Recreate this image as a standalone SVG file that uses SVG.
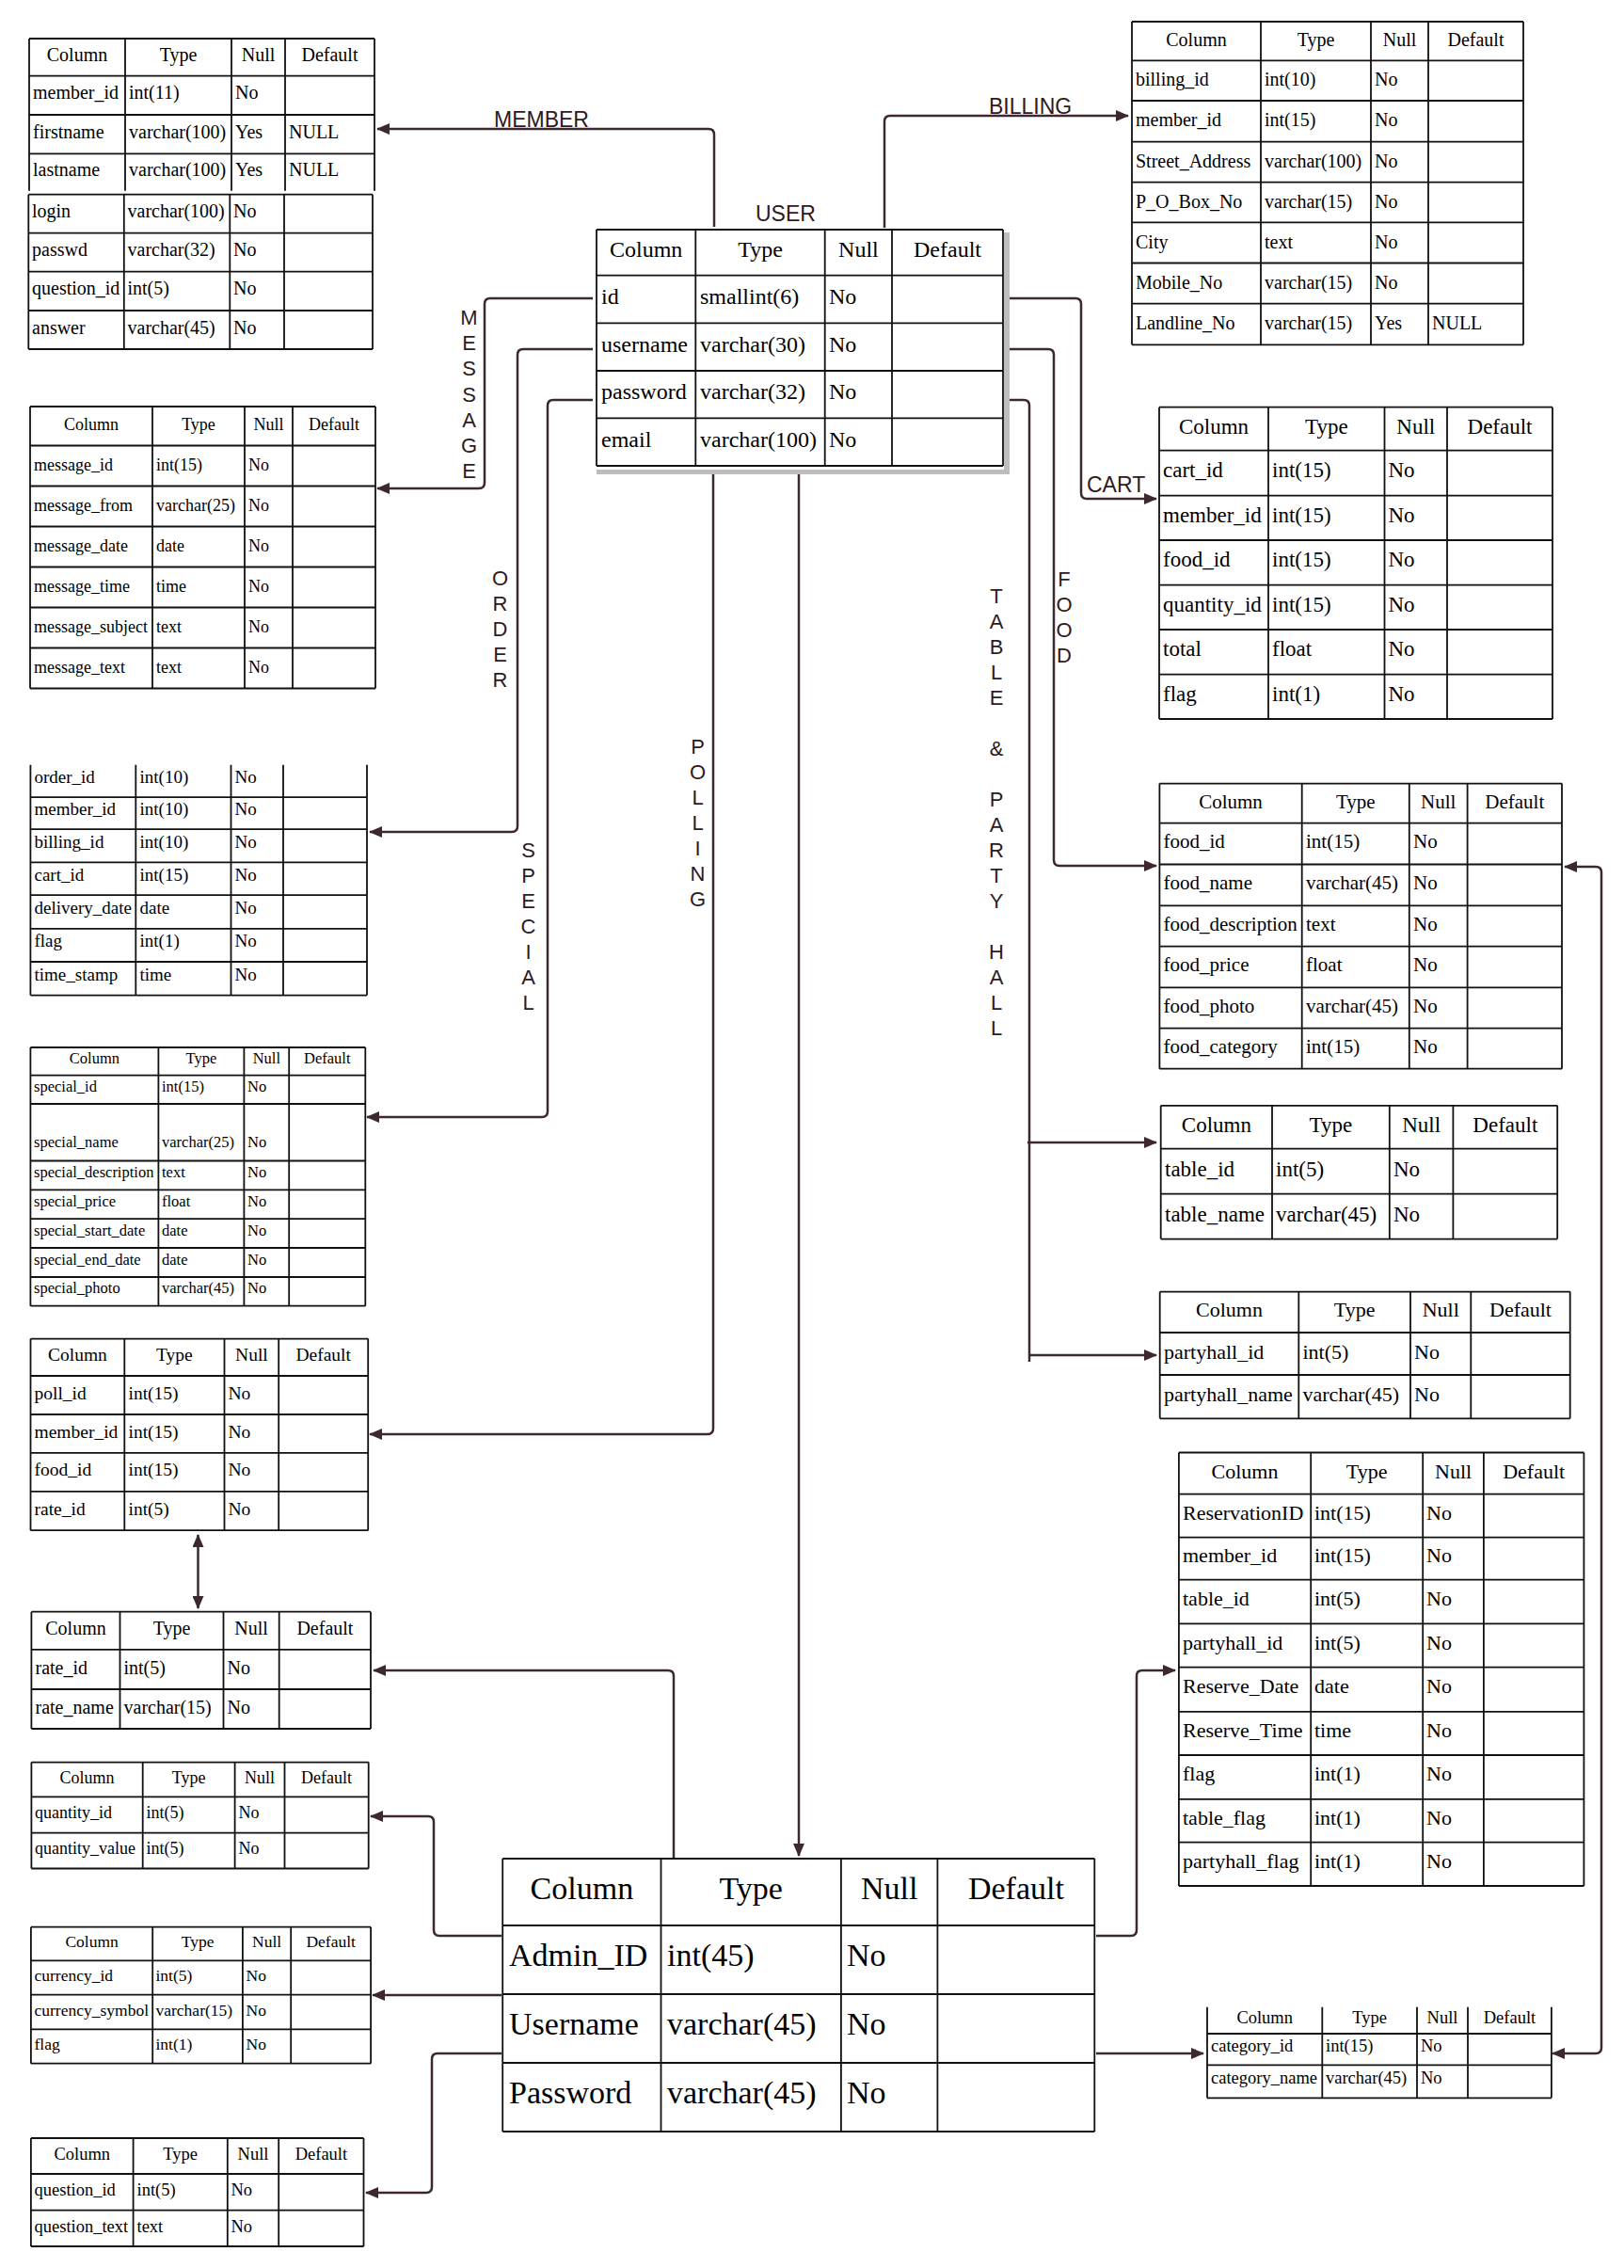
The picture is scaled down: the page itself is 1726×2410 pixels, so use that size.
<svg xmlns="http://www.w3.org/2000/svg" width="1726" height="2410" viewBox="0 0 1726 2410">
<style>
.bg{fill:#fff}
.g{fill:none;stroke:#111;stroke-width:1.8}
.t{font-family:"Liberation Serif","Times New Roman",serif;fill:#000}
.c{text-anchor:middle}
.conn{fill:none;stroke:#3d2830;stroke-width:2.5}
.lbl{font-family:"Liberation Sans",Arial,sans-serif;fill:#2e1a20;font-size:23px}
.vl{font-family:"Liberation Sans",Arial,sans-serif;fill:#2e1a20;font-size:22px;text-anchor:middle}
</style>
<defs>
<marker id="ah" markerUnits="userSpaceOnUse" markerWidth="14" markerHeight="12" refX="13" refY="6" orient="auto-start-reverse" viewBox="0 0 14 12"><path d="M0,0 L14,6 L0,12 Z" fill="#3d2830"/></marker>
</defs>
<rect class="bg" x="0" y="0" width="1726" height="2410"/>

<g id="connectors">
<path class="conn" d="M759 241 L759 143 Q759 137 753 137 L401 137" marker-end="url(#ah)"/>
<path class="conn" d="M940 242 L940 129 Q940 123 946 123 L1199 123" marker-end="url(#ah)"/>
<path class="conn" d="M630 317 L521 317 Q515 317 515 323 L515 513 Q515 519 509 519 L401 519" marker-end="url(#ah)"/>
<path class="conn" d="M630 371 L556 371 Q550 371 550 377 L550 878 Q550 884 544 884 L393 884" marker-end="url(#ah)"/>
<path class="conn" d="M630 425 L588 425 Q582 425 582 431 L582 1181 Q582 1187 576 1187 L390 1187" marker-end="url(#ah)"/>
<path class="conn" d="M1072 317 L1143 317 Q1149 317 1149 323 L1149 524 Q1149 530 1155 530 L1229 530" marker-end="url(#ah)"/>
<path class="conn" d="M1072 371 L1114 371 Q1120 371 1120 377 L1120 914 Q1120 920 1126 920 L1229 920" marker-end="url(#ah)"/>
<path class="conn" d="M1072 425 L1088 425 Q1094 425 1094 431 L1094 1447"/>
<path class="conn" d="M1092 1214 L1229 1214" marker-end="url(#ah)"/>
<path class="conn" d="M1094 1440 L1229 1440" marker-end="url(#ah)"/>
<path class="conn" d="M758 503 L758 1518 Q758 1524 752 1524 L393 1524" marker-end="url(#ah)"/>
<path class="conn" d="M849 503 L849 1972" marker-end="url(#ah)"/>
<path class="conn" d="M210.5 1631 L210.5 1709" marker-start="url(#ah)" marker-end="url(#ah)"/>
<path class="conn" d="M716 1974 L716 1781 Q716 1775 710 1775 L397 1775" marker-end="url(#ah)"/>
<path class="conn" d="M533 2057 L467 2057 Q461 2057 461 2051 L461 1936 Q461 1930 455 1930 L394 1930" marker-end="url(#ah)"/>
<path class="conn" d="M533 2120 L396 2120" marker-end="url(#ah)"/>
<path class="conn" d="M533 2182 L465 2182 Q459 2182 459 2188 L459 2324 Q459 2330 453 2330 L389 2330" marker-end="url(#ah)"/>
<path class="conn" d="M1165 2057 L1202 2057 Q1208 2057 1208 2051 L1208 1781 Q1208 1775 1214 1775 L1249 1775" marker-end="url(#ah)"/>
<path class="conn" d="M1165 2182 L1279 2182" marker-end="url(#ah)"/>
<path class="conn" d="M1663 921 L1696 921 Q1702 921 1702 927 L1702 2176 Q1702 2182 1696 2182 L1650 2182" marker-start="url(#ah)" marker-end="url(#ah)"/>
<text class="lbl" x="525" y="135">MEMBER</text>
<text class="lbl" x="1051" y="121">BILLING</text>
<text class="lbl" x="803" y="235">USER</text>
<text class="lbl" x="1155" y="523">CART</text>
<text class="vl" x="498.5" y="345"><tspan x="498.5">M</tspan><tspan x="498.5" dy="27.2">E</tspan><tspan x="498.5" dy="27.2">S</tspan><tspan x="498.5" dy="27.2">S</tspan><tspan x="498.5" dy="27.2">A</tspan><tspan x="498.5" dy="27.2">G</tspan><tspan x="498.5" dy="27.2">E</tspan></text>
<text class="vl" x="531.5" y="622"><tspan x="531.5">O</tspan><tspan x="531.5" dy="27">R</tspan><tspan x="531.5" dy="27">D</tspan><tspan x="531.5" dy="27">E</tspan><tspan x="531.5" dy="27">R</tspan></text>
<text class="vl" x="561.5" y="911"><tspan x="561.5">S</tspan><tspan x="561.5" dy="27">P</tspan><tspan x="561.5" dy="27">E</tspan><tspan x="561.5" dy="27">C</tspan><tspan x="561.5" dy="27">I</tspan><tspan x="561.5" dy="27">A</tspan><tspan x="561.5" dy="27">L</tspan></text>
<text class="vl" x="741.5" y="801"><tspan x="741.5">P</tspan><tspan x="741.5" dy="27">O</tspan><tspan x="741.5" dy="27">L</tspan><tspan x="741.5" dy="27">L</tspan><tspan x="741.5" dy="27">I</tspan><tspan x="741.5" dy="27">N</tspan><tspan x="741.5" dy="27">G</tspan></text>
<text class="vl" x="1059" y="641"><tspan x="1059">T</tspan><tspan x="1059" dy="27">A</tspan><tspan x="1059" dy="27">B</tspan><tspan x="1059" dy="27">L</tspan><tspan x="1059" dy="27">E</tspan><tspan x="1059" dy="54">&amp;</tspan><tspan x="1059" dy="54">P</tspan><tspan x="1059" dy="27">A</tspan><tspan x="1059" dy="27">R</tspan><tspan x="1059" dy="27">T</tspan><tspan x="1059" dy="27">Y</tspan><tspan x="1059" dy="54">H</tspan><tspan x="1059" dy="27">A</tspan><tspan x="1059" dy="27">L</tspan><tspan x="1059" dy="27">L</tspan></text>
<text class="vl" x="1131" y="622.5"><tspan x="1131">F</tspan><tspan x="1131" dy="27">O</tspan><tspan x="1131" dy="27">O</tspan><tspan x="1131" dy="27">D</tspan></text>
</g>

<g id="member">
<path class="g" d="M31 41H398 M31 80.7H398 M31 122H398 M31 163.3H398 M31 41V202.7 M133 41V202.7 M246 41V202.7 M303 41V202.7 M398 41V202.7"/>
<path class="g" d="M30.3 206.7H396 M30.3 247.7H396 M30.3 288.7H396 M30.3 330H396 M30.3 371H396 M30.3 206.7V371 M131.8 206.7V371 M244.3 206.7V371 M302 206.7V371 M396 206.7V371"/>
<g class="t" font-size="20">
<text class="c" x="82" y="65">Column</text><text class="c" x="189.5" y="65">Type</text><text class="c" x="274.5" y="65">Null</text><text class="c" x="350.5" y="65">Default</text>
<text x="35" y="105.4">member_id</text><text x="137" y="105.4">int(11)</text><text x="250" y="105.4">No</text>
<text x="35" y="146.7">firstname</text><text x="137" y="146.7">varchar(100)</text><text x="250" y="146.7">Yes</text><text x="307" y="146.7">NULL</text>
<text x="35" y="187">lastname</text><text x="137" y="187">varchar(100)</text><text x="250" y="187">Yes</text><text x="307" y="187">NULL</text>
<text x="34" y="231.2">login</text><text x="135.5" y="231.2">varchar(100)</text><text x="248" y="231.2">No</text>
<text x="34" y="272.2">passwd</text><text x="135.5" y="272.2">varchar(32)</text><text x="248" y="272.2">No</text>
<text x="34" y="313.4">question_id</text><text x="135.5" y="313.4">int(5)</text><text x="248" y="313.4">No</text>
<text x="34" y="354.5">answer</text><text x="135.5" y="354.5">varchar(45)</text><text x="248" y="354.5">No</text>
</g>
</g>

<g id="message">
<path class="g" d="M32 432H399 M32 473.5H399 M32 516.5H399 M32 559.5H399 M32 602.5H399 M32 645.5H399 M32 688.5H399 M32 731.5H399 M32 432V731.5 M162 432V731.5 M260 432V731.5 M311 432V731.5 M399 432V731.5"/>
<g class="t" font-size="18">
<text class="c" x="97" y="457.3">Column</text><text class="c" x="211" y="457.3">Type</text><text class="c" x="285.5" y="457.3">Null</text><text class="c" x="355" y="457.3">Default</text>
<text x="36" y="499.5">message_id</text><text x="166" y="499.5">int(15)</text><text x="264" y="499.5">No</text>
<text x="36" y="542.5">message_from</text><text x="166" y="542.5">varchar(25)</text><text x="264" y="542.5">No</text>
<text x="36" y="585.5">message_date</text><text x="166" y="585.5">date</text><text x="264" y="585.5">No</text>
<text x="36" y="628.5">message_time</text><text x="166" y="628.5">time</text><text x="264" y="628.5">No</text>
<text x="36" y="671.5">message_subject</text><text x="166" y="671.5">text</text><text x="264" y="671.5">No</text>
<text x="36" y="714.5">message_text</text><text x="166" y="714.5">text</text><text x="264" y="714.5">No</text>
</g>
</g>

<g id="user">
<rect x="1067" y="247" width="6" height="257" fill="#bdbdbd"/>
<rect x="634" y="499" width="439" height="5" fill="#bdbdbd"/>
<rect x="634" y="244" width="432" height="251" fill="#fff"/>
<path class="g" stroke-width="2.2" d="M634 244H1066 M634 292.7H1066 M634 343.3H1066 M634 394H1066 M634 444.3H1066 M634 495H1066 M634 244V495 M739.3 244V495 M876.7 244V495 M948 244V495 M1066 244V495"/>
<g class="t" font-size="24">
<text class="c" x="686.7" y="273.4">Column</text><text class="c" x="808" y="273.4">Type</text><text class="c" x="912.4" y="273.4">Null</text><text class="c" x="1007" y="273.4">Default</text>
<text x="639" y="323">id</text><text x="744" y="323">smallint(6)</text><text x="881" y="323">No</text>
<text x="639" y="373.7">username</text><text x="744" y="373.7">varchar(30)</text><text x="881" y="373.7">No</text>
<text x="639" y="424.2">password</text><text x="744" y="424.2">varchar(32)</text><text x="881" y="424.2">No</text>
<text x="639" y="474.7">email</text><text x="744" y="474.7">varchar(100)</text><text x="881" y="474.7">No</text>
</g>
</g>

<g id="billing">
<path class="g" d="M1203 23H1619 M1203 64.3H1619 M1203 107H1619 M1203 150.6H1619 M1203 193.7H1619 M1203 236.4H1619 M1203 279.5H1619 M1203 322.6H1619 M1203 366.3H1619 M1203 23V366.3 M1340 23V366.3 M1457 23V366.3 M1518 23V366.3 M1619 23V366.3"/>
<g class="t" font-size="20">
<text class="c" x="1271.5" y="49.2">Column</text><text class="c" x="1398.5" y="49.2">Type</text><text class="c" x="1487.5" y="49.2">Null</text><text class="c" x="1568.5" y="49.2">Default</text>
<text x="1207" y="91.2">billing_id</text><text x="1344" y="91.2">int(10)</text><text x="1461" y="91.2">No</text>
<text x="1207" y="134.3">member_id</text><text x="1344" y="134.3">int(15)</text><text x="1461" y="134.3">No</text>
<text x="1207" y="177.7">Street_Address</text><text x="1344" y="177.7">varchar(100)</text><text x="1461" y="177.7">No</text>
<text x="1207" y="220.6">P_O_Box_No</text><text x="1344" y="220.6">varchar(15)</text><text x="1461" y="220.6">No</text>
<text x="1207" y="263.5">City</text><text x="1344" y="263.5">text</text><text x="1461" y="263.5">No</text>
<text x="1207" y="306.6">Mobile_No</text><text x="1344" y="306.6">varchar(15)</text><text x="1461" y="306.6">No</text>
<text x="1207" y="350">Landline_No</text><text x="1344" y="350">varchar(15)</text><text x="1461" y="350">Yes</text><text x="1522" y="350">NULL</text>
</g>
</g>

<g id="cart">
<path class="g" d="M1232 432.7H1650 M1232 478.7H1650 M1232 526.7H1650 M1232 574H1650 M1232 621.7H1650 M1232 669H1650 M1232 716.7H1650 M1232 764H1650 M1232 432.7V764 M1348 432.7V764 M1471.5 432.7V764 M1538 432.7V764 M1650 432.7V764"/>
<g class="t" font-size="23">
<text class="c" x="1290" y="460.7">Column</text><text class="c" x="1409.8" y="460.7">Type</text><text class="c" x="1504.8" y="460.7">Null</text><text class="c" x="1594" y="460.7">Default</text>
<text x="1236" y="507.2">cart_id</text><text x="1352" y="507.2">int(15)</text><text x="1475.5" y="507.2">No</text>
<text x="1236" y="554.9">member_id</text><text x="1352" y="554.9">int(15)</text><text x="1475.5" y="554.9">No</text>
<text x="1236" y="602.4">food_id</text><text x="1352" y="602.4">int(15)</text><text x="1475.5" y="602.4">No</text>
<text x="1236" y="649.9">quantity_id</text><text x="1352" y="649.9">int(15)</text><text x="1475.5" y="649.9">No</text>
<text x="1236" y="697.4">total</text><text x="1352" y="697.4">float</text><text x="1475.5" y="697.4">No</text>
<text x="1236" y="744.9">flag</text><text x="1352" y="744.9">int(1)</text><text x="1475.5" y="744.9">No</text>
</g>
</g>

<g id="food">
<path class="g" d="M1232.4 832.6H1660 M1232.4 874.7H1660 M1232.4 918.5H1660 M1232.4 962.3H1660 M1232.4 1005.6H1660 M1232.4 1049.4H1660 M1232.4 1092.7H1660 M1232.4 1135.7H1660 M1232.4 832.6V1135.7 M1383.7 832.6V1135.7 M1497.8 832.6V1135.7 M1559.6 832.6V1135.7 M1660 832.6V1135.7"/>
<g class="t" font-size="21">
<text class="c" x="1308" y="858.7">Column</text><text class="c" x="1440.8" y="858.7">Type</text><text class="c" x="1528.7" y="858.7">Null</text><text class="c" x="1609.8" y="858.7">Default</text>
<text x="1236.5" y="901">food_id</text><text x="1388" y="901">int(15)</text><text x="1502" y="901">No</text>
<text x="1236.5" y="944.9">food_name</text><text x="1388" y="944.9">varchar(45)</text><text x="1502" y="944.9">No</text>
<text x="1236.5" y="988.5">food_description</text><text x="1388" y="988.5">text</text><text x="1502" y="988.5">No</text>
<text x="1236.5" y="1032">food_price</text><text x="1388" y="1032">float</text><text x="1502" y="1032">No</text>
<text x="1236.5" y="1075.5">food_photo</text><text x="1388" y="1075.5">varchar(45)</text><text x="1502" y="1075.5">No</text>
<text x="1236.5" y="1118.7">food_category</text><text x="1388" y="1118.7">int(15)</text><text x="1502" y="1118.7">No</text>
</g>
</g>

<g id="table">
<path class="g" d="M1233.7 1174.8H1655.2 M1233.7 1220.7H1655.2 M1233.7 1268.6H1655.2 M1233.7 1316.6H1655.2 M1233.7 1174.8V1316.6 M1352 1174.8V1316.6 M1476.8 1174.8V1316.6 M1544.4 1174.8V1316.6 M1655.2 1174.8V1316.6"/>
<g class="t" font-size="23">
<text class="c" x="1292.9" y="1202.8">Column</text><text class="c" x="1414.4" y="1202.8">Type</text><text class="c" x="1510.6" y="1202.8">Null</text><text class="c" x="1599.8" y="1202.8">Default</text>
<text x="1238" y="1249.7">table_id</text><text x="1356" y="1249.7">int(5)</text><text x="1481" y="1249.7">No</text>
<text x="1238" y="1297.6">table_name</text><text x="1356" y="1297.6">varchar(45)</text><text x="1481" y="1297.6">No</text>
</g>
</g>

<g id="partyhall">
<path class="g" d="M1232.7 1372.6H1668.7 M1232.7 1416H1668.7 M1232.7 1461H1668.7 M1232.7 1507.3H1668.7 M1232.7 1372.6V1507.3 M1380.3 1372.6V1507.3 M1499 1372.6V1507.3 M1563.3 1372.6V1507.3 M1668.7 1372.6V1507.3"/>
<g class="t" font-size="22">
<text class="c" x="1306.5" y="1399.3">Column</text><text class="c" x="1439.7" y="1399.3">Type</text><text class="c" x="1531.2" y="1399.3">Null</text><text class="c" x="1616" y="1399.3">Default</text>
<text x="1237" y="1443.5">partyhall_id</text><text x="1384.5" y="1443.5">int(5)</text><text x="1503" y="1443.5">No</text>
<text x="1237" y="1489.2">partyhall_name</text><text x="1384.5" y="1489.2">varchar(45)</text><text x="1503" y="1489.2">No</text>
</g>
</g>

<g id="reservation">
<path class="g" d="M1252.9 1543.5H1683.4 M1252.9 1587.7H1683.4 M1252.9 1633.6H1683.4 M1252.9 1678.6H1683.4 M1252.9 1725.3H1683.4 M1252.9 1771.6H1683.4 M1252.9 1818.8H1683.4 M1252.9 1865H1683.4 M1252.9 1911.8H1683.4 M1252.9 1957.6H1683.4 M1252.9 2004H1683.4 M1252.9 1543.5V2004 M1393.2 1543.5V2004 M1512.2 1543.5V2004 M1576.9 1543.5V2004 M1683.4 1543.5V2004"/>
<g class="t" font-size="22">
<text class="c" x="1323" y="1570.6">Column</text><text class="c" x="1452.7" y="1570.6">Type</text><text class="c" x="1544.6" y="1570.6">Null</text><text class="c" x="1630.2" y="1570.6">Default</text>
<text x="1257" y="1614.7">ReservationID</text><text x="1397" y="1614.7">int(15)</text><text x="1516" y="1614.7">No</text>
<text x="1257" y="1660.1">member_id</text><text x="1397" y="1660.1">int(15)</text><text x="1516" y="1660.1">No</text>
<text x="1257" y="1706">table_id</text><text x="1397" y="1706">int(5)</text><text x="1516" y="1706">No</text>
<text x="1257" y="1752.5">partyhall_id</text><text x="1397" y="1752.5">int(5)</text><text x="1516" y="1752.5">No</text>
<text x="1257" y="1799.2">Reserve_Date</text><text x="1397" y="1799.2">date</text><text x="1516" y="1799.2">No</text>
<text x="1257" y="1845.9">Reserve_Time</text><text x="1397" y="1845.9">time</text><text x="1516" y="1845.9">No</text>
<text x="1257" y="1892.4">flag</text><text x="1397" y="1892.4">int(1)</text><text x="1516" y="1892.4">No</text>
<text x="1257" y="1938.7">table_flag</text><text x="1397" y="1938.7">int(1)</text><text x="1516" y="1938.7">No</text>
<text x="1257" y="1984.8">partyhall_flag</text><text x="1397" y="1984.8">int(1)</text><text x="1516" y="1984.8">No</text>
</g>
</g>

<g id="category">
<path class="g" d="M1283 2161H1648.9 M1283 2194.3H1648.9 M1283 2229.3H1648.9 M1283 2132.7V2229.3 M1405.3 2132.7V2229.3 M1506 2132.7V2229.3 M1560 2132.7V2229.3 M1648.9 2132.7V2229.3"/>
<g class="t" font-size="18.5">
<text class="c" x="1344.2" y="2150">Column</text><text class="c" x="1455.7" y="2150">Type</text><text class="c" x="1533" y="2150">Null</text><text class="c" x="1604.5" y="2150">Default</text>
<text x="1287" y="2179.7">category_id</text><text x="1409" y="2179.7">int(15)</text><text x="1510" y="2179.7">No</text>
<text x="1287" y="2213.8">category_name</text><text x="1409" y="2213.8">varchar(45)</text><text x="1510" y="2213.8">No</text>
</g>
</g>

<g id="order">
<path class="g" d="M32.4 847.2H390 M32.4 881.2H390 M32.4 916.4H390 M32.4 951.2H390 M32.4 986.8H390 M32.4 1022H390 M32.4 1057.6H390 M32.4 812.8V1057.6 M144.3 812.8V1057.6 M245.5 812.8V1057.6 M301 812.8V1057.6 M390 812.8V1057.6"/>
<g class="t" font-size="19">
<text x="36.5" y="832">order_id</text><text x="148.5" y="832">int(10)</text><text x="249.5" y="832">No</text>
<text x="36.5" y="866.2">member_id</text><text x="148.5" y="866.2">int(10)</text><text x="249.5" y="866.2">No</text>
<text x="36.5" y="900.8">billing_id</text><text x="148.5" y="900.8">int(10)</text><text x="249.5" y="900.8">No</text>
<text x="36.5" y="935.8">cart_id</text><text x="148.5" y="935.8">int(15)</text><text x="249.5" y="935.8">No</text>
<text x="36.5" y="971">delivery_date</text><text x="148.5" y="971">date</text><text x="249.5" y="971">No</text>
<text x="36.5" y="1006.4">flag</text><text x="148.5" y="1006.4">int(1)</text><text x="249.5" y="1006.4">No</text>
<text x="36.5" y="1041.8">time_stamp</text><text x="148.5" y="1041.8">time</text><text x="249.5" y="1041.8">No</text>
</g>
</g>

<g id="special">
<path class="g" d="M32.4 1113H388.3 M32.4 1142.6H388.3 M32.4 1173H388.3 M32.4 1233.5H388.3 M32.4 1264.4H388.3 M32.4 1295.2H388.3 M32.4 1326H388.3 M32.4 1357H388.3 M32.4 1387.7H388.3 M32.4 1113V1387.7 M168.4 1113V1387.7 M259.4 1113V1387.7 M307.2 1113V1387.7 M388.3 1113V1387.7"/>
<g class="t" font-size="16.5">
<text class="c" x="100.4" y="1130">Column</text><text class="c" x="213.9" y="1130">Type</text><text class="c" x="283.3" y="1130">Null</text><text class="c" x="347.8" y="1130">Default</text>
<text x="36" y="1159.8">special_id</text><text x="172" y="1159.8">int(15)</text><text x="263" y="1159.8">No</text>
<text x="36" y="1219">special_name</text><text x="172" y="1219">varchar(25)</text><text x="263" y="1219">No</text>
<text x="36" y="1251">special_description</text><text x="172" y="1251">text</text><text x="263" y="1251">No</text>
<text x="36" y="1281.8">special_price</text><text x="172" y="1281.8">float</text><text x="263" y="1281.8">No</text>
<text x="36" y="1312.6">special_start_date</text><text x="172" y="1312.6">date</text><text x="263" y="1312.6">No</text>
<text x="36" y="1343.5">special_end_date</text><text x="172" y="1343.5">date</text><text x="263" y="1343.5">No</text>
<text x="36" y="1374.4">special_photo</text><text x="172" y="1374.4">varchar(45)</text><text x="263" y="1374.4">No</text>
</g>
</g>

<g id="poll">
<path class="g" d="M32.5 1422.6H391.2 M32.5 1462H391.2 M32.5 1503H391.2 M32.5 1543.9H391.2 M32.5 1584.8H391.2 M32.5 1626.2H391.2 M32.5 1422.6V1626.2 M132.3 1422.6V1626.2 M238.5 1422.6V1626.2 M296.2 1422.6V1626.2 M391.2 1422.6V1626.2"/>
<g class="t" font-size="19.5">
<text class="c" x="82.4" y="1446.3">Column</text><text class="c" x="185.4" y="1446.3">Type</text><text class="c" x="267.4" y="1446.3">Null</text><text class="c" x="343.7" y="1446.3">Default</text>
<text x="36.5" y="1486.5">poll_id</text><text x="136.5" y="1486.5">int(15)</text><text x="242.5" y="1486.5">No</text>
<text x="36.5" y="1527.5">member_id</text><text x="136.5" y="1527.5">int(15)</text><text x="242.5" y="1527.5">No</text>
<text x="36.5" y="1568.4">food_id</text><text x="136.5" y="1568.4">int(15)</text><text x="242.5" y="1568.4">No</text>
<text x="36.5" y="1609.5">rate_id</text><text x="136.5" y="1609.5">int(5)</text><text x="242.5" y="1609.5">No</text>
</g>
</g>

<g id="rate">
<path class="g" d="M33.4 1712.7H394 M33.4 1752.9H394 M33.4 1795H394 M33.4 1837H394 M33.4 1712.7V1837 M127.5 1712.7V1837 M237.5 1712.7V1837 M296.7 1712.7V1837 M394 1712.7V1837"/>
<g class="t" font-size="20">
<text class="c" x="80.5" y="1737.3">Column</text><text class="c" x="182.5" y="1737.3">Type</text><text class="c" x="267.1" y="1737.3">Null</text><text class="c" x="345.4" y="1737.3">Default</text>
<text x="37.5" y="1778.5">rate_id</text><text x="131.5" y="1778.5">int(5)</text><text x="241.5" y="1778.5">No</text>
<text x="37.5" y="1820.5">rate_name</text><text x="131.5" y="1820.5">varchar(15)</text><text x="241.5" y="1820.5">No</text>
</g>
</g>

<g id="quantity">
<path class="g" d="M33.4 1872.6H391.7 M33.4 1909.4H391.7 M33.4 1947.6H391.7 M33.4 1985.5H391.7 M33.4 1872.6V1985.5 M151.7 1872.6V1985.5 M249.6 1872.6V1985.5 M302.5 1872.6V1985.5 M391.7 1872.6V1985.5"/>
<g class="t" font-size="18">
<text class="c" x="92.6" y="1894.5">Column</text><text class="c" x="200.7" y="1894.5">Type</text><text class="c" x="276.1" y="1894.5">Null</text><text class="c" x="347.1" y="1894.5">Default</text>
<text x="37" y="1932">quantity_id</text><text x="155.5" y="1932">int(5)</text><text x="253.5" y="1932">No</text>
<text x="37" y="1970">quantity_value</text><text x="155.5" y="1970">int(5)</text><text x="253.5" y="1970">No</text>
</g>
</g>

<g id="currency">
<path class="g" d="M32.9 2047.7H394.1 M32.9 2083.3H394.1 M32.9 2119.7H394.1 M32.9 2156.3H394.1 M32.9 2192.7H394.1 M32.9 2047.7V2192.7 M162.2 2047.7V2192.7 M257.9 2047.7V2192.7 M309.2 2047.7V2192.7 M394.1 2047.7V2192.7"/>
<g class="t" font-size="17.5">
<text class="c" x="97.6" y="2069">Column</text><text class="c" x="210.1" y="2069">Type</text><text class="c" x="283.6" y="2069">Null</text><text class="c" x="351.7" y="2069">Default</text>
<text x="36.5" y="2105">currency_id</text><text x="165.5" y="2105">int(5)</text><text x="261.5" y="2105">No</text>
<text x="36.5" y="2141.5">currency_symbol</text><text x="165.5" y="2141.5">varchar(15)</text><text x="261.5" y="2141.5">No</text>
<text x="36.5" y="2178">flag</text><text x="165.5" y="2178">int(1)</text><text x="261.5" y="2178">No</text>
</g>
</g>

<g id="question">
<path class="g" d="M32.9 2272H386.5 M32.9 2310H386.5 M32.9 2348.7H386.5 M32.9 2387H386.5 M32.9 2272V2387 M141.6 2272V2387 M241.8 2272V2387 M296.2 2272V2387 M386.5 2272V2387"/>
<g class="t" font-size="18.5">
<text class="c" x="87.3" y="2295">Column</text><text class="c" x="191.7" y="2295">Type</text><text class="c" x="269" y="2295">Null</text><text class="c" x="341.4" y="2295">Default</text>
<text x="36.5" y="2333.4">question_id</text><text x="145.5" y="2333.4">int(5)</text><text x="245.5" y="2333.4">No</text>
<text x="36.5" y="2371.9">question_text</text><text x="145.5" y="2371.9">text</text><text x="245.5" y="2371.9">No</text>
</g>
</g>

<g id="admin">
<path class="g" stroke-width="3" d="M534.2 1975H1163.3 M534.2 2046H1163.3 M534.2 2119H1163.3 M534.2 2192H1163.3 M534.2 2265H1163.3 M534.2 1975V2265 M702.5 1975V2265 M893.9 1975V2265 M996.4 1975V2265 M1163.3 1975V2265"/>
<g class="t" font-size="34">
<text class="c" x="618.4" y="2017.5">Column</text><text class="c" x="798.2" y="2017.5">Type</text><text class="c" x="945.2" y="2017.5">Null</text><text class="c" x="1079.9" y="2017.5">Default</text>
<text x="541" y="2088.5">Admin_ID</text><text x="709" y="2088.5">int(45)</text><text x="900" y="2088.5">No</text>
<text x="541" y="2161.5">Username</text><text x="709" y="2161.5">varchar(45)</text><text x="900" y="2161.5">No</text>
<text x="541" y="2234.5">Password</text><text x="709" y="2234.5">varchar(45)</text><text x="900" y="2234.5">No</text>
</g>
</g>
</svg>
